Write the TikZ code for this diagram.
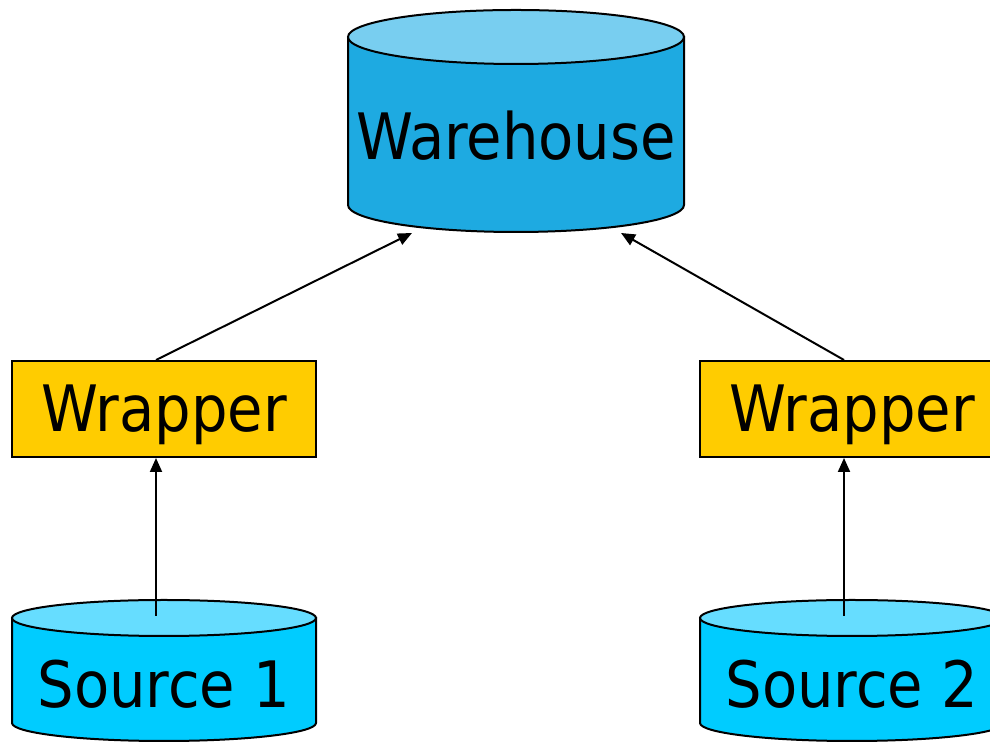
\documentclass[tikz,border=0pt]{standalone}
\usepackage{fontspec}
\setmainfont{DejaVu Sans Condensed}
\usepackage{xcolor}
\definecolor{whbody}{RGB}{30,170,225}
\definecolor{whtop}{RGB}{120,206,240}
\definecolor{srcbody}{RGB}{0,204,255}
\definecolor{srctop}{RGB}{102,221,255}
\definecolor{wrapfill}{RGB}{255,204,0}
\usetikzlibrary{arrows.meta}
\usetikzlibrary{positioning}
\usetikzlibrary{calc}

\tikzset{
  dbline/.style={draw=black, line width=2pt},
  wrapbox/.style={draw=black, line width=2pt, fill=wrapfill, minimum width=304pt, minimum height=96pt, inner sep=0pt, text depth=0pt, text height=46pt},
  bigtext/.style={font=\fontsize{64}{70}\selectfont},
  flow/.style={line width=2pt, -{Triangle[length=14pt, width=12pt]}}
}

\begin{document}
\begin{tikzpicture}[x=1pt, y=1pt]

\clip (0,0) rectangle (990,743);
\fill[white] (0,0) rectangle (990,743);

% Warehouse
\filldraw[dbline, fill=whbody] (348,706) -- (348,538) arc[start angle=180, end angle=360, x radius=168, y radius=27] -- (684,706) -- cycle;
\filldraw[dbline, fill=whtop] (516,706) ellipse [x radius=168, y radius=27];
\node[bigtext, anchor=base] (wh) at (516,583) {Warehouse};

% Source 1
\filldraw[dbline, fill=srcbody] (12,125) -- (12,20) arc[start angle=180, end angle=360, x radius=152, y radius=18] -- (316,125) -- cycle;
\filldraw[dbline, fill=srctop] (164,125) ellipse [x radius=152, y radius=18];
\node[bigtext, anchor=base] (src1) at (164,35) {Source 1};

% Source 2
\filldraw[dbline, fill=srcbody] (700,125) -- (700,20) arc[start angle=180, end angle=360, x radius=152, y radius=18] -- (1004,125) -- cycle;
\filldraw[dbline, fill=srctop] (852,125) ellipse [x radius=152, y radius=18];
\node[bigtext, anchor=base] (src2) at (852,35) {Source 2};

% Wrappers
\node[wrapbox, bigtext] (wrapL) at (164,334) {Wrapper};
\node[wrapbox, bigtext] (wrapR) at (852,334) {Wrapper};

% arrow ends
\coordinate (s1out) at (156,127);
\coordinate (s2out) at (844,127);
\coordinate (whinL) at (412,510);
\coordinate (whinR) at (621,510);

\draw[flow] (s1out) -- (s1out |- wrapL.south);
\draw[flow] (s2out) -- (s2out |- wrapR.south);
\draw[flow] (wrapL.north -| s1out) -- (whinL);
\draw[flow] (wrapR.north -| s2out) -- (whinR);

\end{tikzpicture}
\end{document}
